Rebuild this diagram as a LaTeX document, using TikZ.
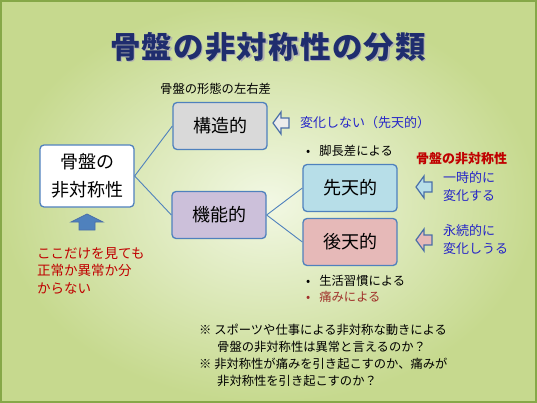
\documentclass[tikz,border=0pt]{standalone}
\usepackage{fontspec}
\newfontfamily\cjk{Noto Sans CJK JP}
\newfontfamily\cjktitle[LetterSpace=4]{Noto Sans CJK JP}
\tikzset{
  box/.style={draw=boxblue, line width=1.3pt, rounded corners=4pt, minimum width=94pt, minimum height=47pt, align=center, font=\cjk\fontsize{18}{28}\selectfont},
  conn/.style={draw=boxblue, line width=0.9pt},
  harrow/.style={draw=arrowblue, line width=1.2pt, line join=miter},
  bluetxt/.style={text=txtblue, font=\cjk\fontsize{13}{18}\selectfont, align=left, anchor=west, inner sep=0pt},
  blacktxt/.style={font=\cjk\fontsize{12.3}{16.5}\selectfont, align=left, anchor=west, inner sep=0pt},
  titletxt/.style={font=\cjktitle\bfseries\fontsize{30.5}{34}\selectfont},
}
\definecolor{boxblue}{HTML}{4F81BD}
\definecolor{arrowblue}{HTML}{4A6FA8}
\definecolor{txtblue}{HTML}{2626C8}
\definecolor{titleblue}{HTML}{1F2D6E}
\definecolor{redtxt}{HTML}{C00000}
\definecolor{darkred}{HTML}{A0302A}
\definecolor{bgin}{HTML}{F2F8E4}
\definecolor{bgout}{HTML}{C6D98E}
\definecolor{frame}{HTML}{86A848}
\definecolor{kinofill}{HTML}{CCC0DA}
\definecolor{senfill}{HTML}{B7DEE8}
\definecolor{kofill}{HTML}{E6B9B8}
\definecolor{kozofill}{HTML}{D9D9D9}
\begin{document}
\begin{tikzpicture}[x=1pt,y=-1pt]
\useasboundingbox (0,0) rectangle (537,403);
\shade[inner color=bgin, outer color=bgout] (0,0) rectangle (537,403);
\draw[frame, line width=2pt] (1,1) rectangle (536,402);
% title with shadow
\node[titletxt, text=black!30] at (269.5,48.5) {骨盤の非対称性の分類};
\node (title) [titletxt, text=titleblue] at (268,47) {骨盤の非対称性の分類};
% boxes
\node (root) [box, fill=white, minimum width=94pt, minimum height=62pt] at (87,176) {骨盤の\\非対称性};
\node (kozo) [box, fill=kozofill] at (220,126) {構造的};
\node (kino) [box, fill=kinofill] at (219,215) {機能的};
\node (sen) [box, fill=senfill] at (350,188) {先天的};
\node (ko) [box, fill=kofill] at (350,242) {後天的};
\draw[conn] (root.east) -- (kozo.west);
\draw[conn] (root.east) -- (kino.west);
\draw[conn] (kino.east) -- (sen.west);
\draw[conn] (kino.east) -- (ko.west);
% labels
\node (lab1) [blacktxt] at (160,89) {骨盤の形態の左右差};
% hollow arrows
\draw[harrow, fill=white!85!gray] (273,123) -- (281,112) -- (281,118) -- (289,118) -- (289,128) -- (281,128) -- (281,134) -- cycle;
\node (t1) [bluetxt] at (300,123) {変化しない（先天的）};
\node (b1) [blacktxt] at (306,151) {•\hspace{9pt}脚長差による};
\node (red1) [text=redtxt, font=\cjk\bfseries\fontsize{13}{16}\selectfont, anchor=west, inner sep=0pt] at (416,159) {骨盤の非対称性};
\draw[harrow, fill=senfill] (416,187) -- (424,176) -- (424,182) -- (432,182) -- (432,192) -- (424,192) -- (424,198) -- cycle;
\node (t2) [bluetxt] at (443,187) {一時的に\\変化する};
\draw[harrow, fill=kofill] (416,240) -- (424,229) -- (424,235) -- (432,235) -- (432,245) -- (424,245) -- (424,251) -- cycle;
\node (t3) [bluetxt] at (443,240) {永続的に\\変化しうる};
% up arrow
\draw[draw=arrowblue, fill=boxblue, line width=0.8pt] (87,214) -- (103,222) -- (95,222) -- (95,230) -- (79,230) -- (79,222) -- (71,222) -- cycle;
\node (red2) [text=redtxt, font=\cjk\fontsize{13.5}{17.5}\selectfont, align=left, anchor=north west, inner sep=0pt] at (37,247) {ここだけを見ても\\正常か異常か分\\からない};
% bullets under 後天的
\node (b2) [blacktxt] at (306,281) {•\hspace{9pt}生活習慣による};
\node (b3) [blacktxt, text=darkred] at (306,297) {•\hspace{9pt}痛みによる};
% notes
\node (n1) [blacktxt] at (199,330) {※ スポーツや仕事による非対称な動きによる};
\node (n2) [blacktxt] at (217,347) {骨盤の非対称性は異常と言えるのか？};
\node (n3) [blacktxt] at (199,364) {※ 非対称性が痛みを引き起こすのか、痛みが};
\node (n4) [blacktxt] at (217,381) {非対称性を引き起こすのか？};
\end{tikzpicture}
\end{document}
